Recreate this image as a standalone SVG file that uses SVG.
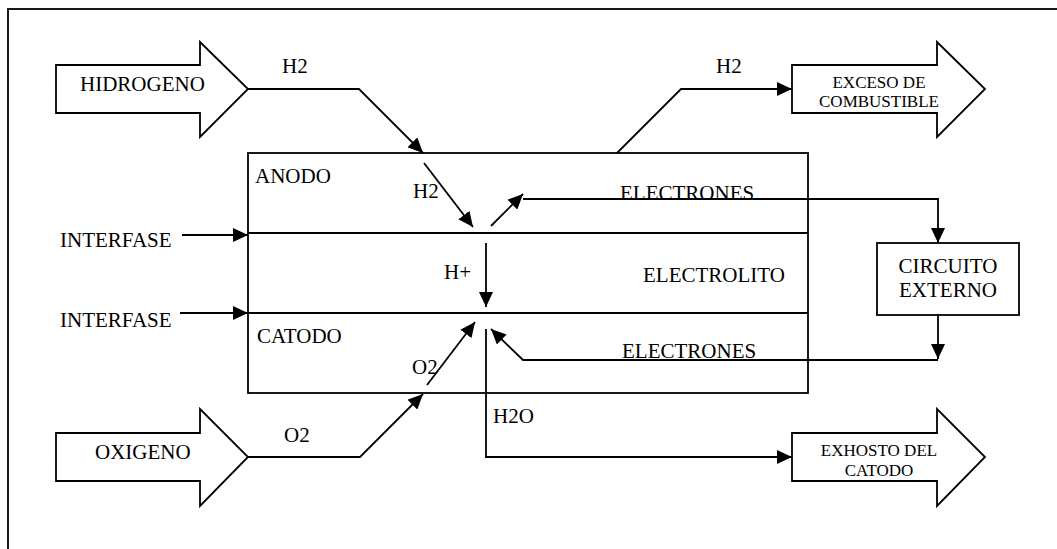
<svg xmlns="http://www.w3.org/2000/svg" width="1057" height="549" viewBox="0 0 1057 549">
<style>
.s{fill:none;stroke:#000;stroke-width:1.8}
.b{fill:#fff;stroke:#000;stroke-width:1.8}
.t{font-family:"Liberation Serif","Times New Roman",serif;font-size:21px;fill:#000}
.sm{font-family:"Liberation Serif","Times New Roman",serif;font-size:17px;fill:#000;text-anchor:middle}
.c{text-anchor:middle}
</style>
<defs>
<marker id="ah" markerUnits="userSpaceOnUse" markerWidth="16" markerHeight="14" refX="15" refY="7" orient="auto">
<path d="M0,0 L15,7 L0,14 z" fill="#000"/>
</marker>
</defs>
<rect x="0" y="0" width="1057" height="549" fill="#fff"/>
<rect id="frame" x="8" y="9" width="1070" height="560" class="s"/>

<g id="hidrogeno">
<polygon class="b" points="56,65 200,65 200,42 248,89 200,137 200,113 56,113"/>
<text class="t" x="80" y="91">HIDROGENO</text>
</g>
<g id="oxigeno">
<polygon class="b" points="56,433 200,433 200,409 248,457 200,506 200,481 56,481"/>
<text class="t" x="95" y="459">OXIGENO</text>
</g>
<g id="exceso">
<polygon class="b" points="792,65 937,65 937,42 985,89 937,137 937,113 792,113"/>
<text class="sm" x="879" y="88">EXCESO DE</text>
<text class="sm" x="879" y="107">COMBUSTIBLE</text>
</g>
<g id="exhosto">
<polygon class="b" points="792,433 937,433 937,409 985,457 937,506 937,481 792,481"/>
<text class="sm" x="879" y="456">EXHOSTO DEL</text>
<text class="sm" x="879" y="476">CATODO</text>
</g>
<g id="celda">
<rect class="b" x="248" y="153" width="560" height="240"/>
<line class="s" x1="248" y1="233" x2="808" y2="233"/>
<line class="s" x1="248" y1="313" x2="808" y2="313"/>
<text class="t" x="255" y="183">ANODO</text>
<text class="t" x="643" y="282">ELECTROLITO</text>
<text class="t" x="257" y="343">CATODO</text>
</g>
<g id="circuito">
<rect class="b" x="877" y="243" width="142" height="72"/>
<text class="t c" x="948" y="273">CIRCUITO</text>
<text class="t c" x="948" y="297">EXTERNO</text>
</g>

<g id="connectors">
<polyline class="s" points="248,89 359,89 423,153" marker-end="url(#ah)"/>
<line class="s" x1="424" y1="163" x2="473" y2="227" marker-end="url(#ah)"/>
<line class="s" x1="491" y1="226" x2="523" y2="194" marker-end="url(#ah)"/>
<polyline class="s" points="523,199 938,199 938,243" marker-end="url(#ah)"/>
<line class="s" x1="938" y1="315" x2="938" y2="359" marker-end="url(#ah)"/>
<polyline class="s" points="938,360 523,360 491,329" marker-end="url(#ah)"/>
<line class="s" x1="486" y1="243" x2="486" y2="307" marker-end="url(#ah)"/>
<polyline class="s" points="248,457 360,457 423,394" marker-end="url(#ah)"/>
<line class="s" x1="427" y1="385" x2="475" y2="322" marker-end="url(#ah)"/>
<polyline class="s" points="486,329 486,457 792,457" marker-end="url(#ah)"/>
<polyline class="s" points="617,153 681,89 792,89" marker-end="url(#ah)"/>
<line class="s" x1="182" y1="235" x2="248" y2="235" marker-end="url(#ah)"/>
<line class="s" x1="180" y1="313" x2="248" y2="313" marker-end="url(#ah)"/>
</g>

<g id="labels">
<text class="t" x="282" y="73">H2</text>
<text class="t" x="716" y="73">H2</text>
<text class="t" x="413" y="198">H2</text>
<text class="t" x="444" y="279">H+</text>
<text class="t" x="412" y="374">O2</text>
<text class="t" x="284" y="442">O2</text>
<text class="t" x="493" y="423">H2O</text>
<text class="t" x="620" y="200">ELECTRONES</text>
<text class="t" x="622" y="358">ELECTRONES</text>
<text class="t" x="60" y="247">INTERFASE</text>
<text class="t" x="60" y="327">INTERFASE</text>
</g>
</svg>
